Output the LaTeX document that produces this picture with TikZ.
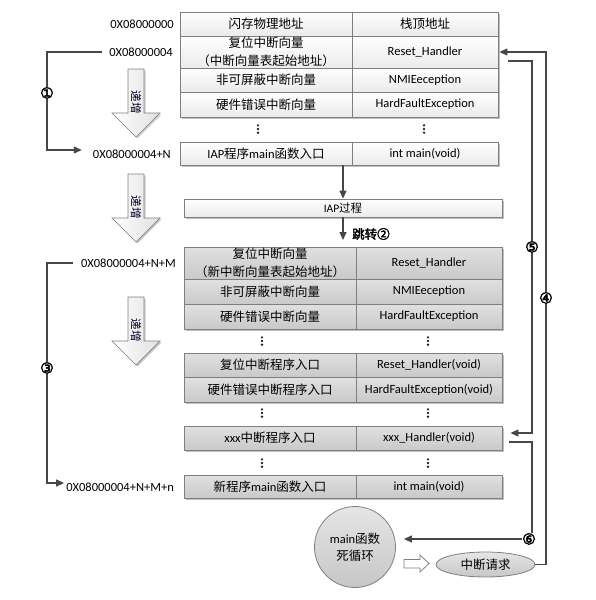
\documentclass[tikz,border=0pt]{standalone}
\usepackage{fontspec}
\setmainfont{Carlito}
\newfontfamily\cjk[AutoFakeBold=2.5]{Noto Sans CJK SC}
\newfontfamily\numfont[FakeBold=3.5]{DejaVu Sans}
\usetikzlibrary{arrows.meta,shapes.geometric,shadows,calc}
\newcommand\zh[1]{{\cjk #1}}
\definecolor{edge}{HTML}{7F7F7F}
\definecolor{ln}{HTML}{474747}
\tikzset{
  cellbase/.style={draw=edge, line width=0.8pt, inner sep=0pt, align=center,
    font=\fontsize{12.5}{18}\selectfont,
    drop shadow={shadow xshift=1.6pt, shadow yshift=-1.6pt, opacity=0.25, fill=black}},
  topcell/.style={cellbase, top color=white, bottom color=black!8},
  botcell/.style={cellbase, top color=black!12, bottom color=black!21},
  tl/.style={minimum width=172pt}, tr/.style={minimum width=146pt},
  addr/.style={anchor=east, inner sep=0pt, font=\fontsize{12.5}{15}\selectfont},
  arr/.style={draw=ln, line width=1.2pt, -{Triangle[length=8pt,width=7pt]}},
  num/.style={fill=white, inner sep=0.3pt, font=\numfont\fontsize{15}{15}\selectfont},
  bigarr/.style={draw=edge, line width=0.7pt, left color=white, right color=black!12,
    drop shadow={shadow xshift=1.6pt, shadow yshift=-1.6pt, opacity=0.2, fill=black}},
  arrtxt/.style={rotate=-90, inner sep=0pt, text=black!85!blue, font=\cjk\fontsize{11.5}{11.5}\selectfont},
  grayshape/.style={draw=edge, line width=0.8pt, top color=black!10, bottom color=black!22,
    align=center, inner sep=0pt, font=\fontsize{12.5}{17}\selectfont}
}
\newcommand\bigarrow[2]{%
  \begin{scope}[shift={(0,#1)}]
    \path[bigarr] (128,0) -- (144,0) -- (144,44) -- (160,44) -- (136,68) -- (112,44) -- (128,44) -- cycle;
    \node[arrtxt] (#2) at (136,33) {递增};
  \end{scope}}
\newcommand\vdts[2]{\fill[black!85] (#1,#2) ++(0,-3.7) circle (1.3) ++(0,3.7) circle (1.3) ++(0,3.7) circle (1.3);}
\begin{document}
\begin{tikzpicture}[x=1pt,y=-1pt]
\useasboundingbox (0,0) rectangle (596,600);

% address labels
\node[addr] (l1) at (174,24) {0X08000000};
\node[addr] (l2) at (173,52) {0X08000004};
\node[addr] (l3) at (171,154) {0X08000004+N};
\node[addr] (l4) at (176,263) {0X08000004+N+M};
\node[addr] (l5) at (174,487) {0X08000004+N+M+n};

% big increasing arrows
\bigarrow{69}{inc1}
\bigarrow{174}{inc2}
\bigarrow{297}{inc3}

% top table
\node[topcell,tl,minimum height=24pt] (t1a) at (266,24) {\zh{闪存物理地址}};
\node[topcell,tr,minimum height=24pt] (t1b) at (425,24) {\zh{栈顶地址}};
\node[topcell,tl,minimum height=32pt] (t2a) at (266,52) {\zh{复位中断向量}\\\zh{（中断向量表起始地址）}};
\node[topcell,tr,minimum height=32pt] (t2b) at (425,52) {Reset\_Handler};
\node[topcell,tl,minimum height=24pt] (t3a) at (266,80) {\zh{非可屏蔽中断向量}};
\node[topcell,tr,minimum height=24pt] (t3b) at (425,80) {NMIEeception};
\node[topcell,tl,minimum height=25pt] (t4a) at (266,104.5) {\zh{硬件错误中断向量}};
\node[topcell,tr,minimum height=25pt] (t4b) at (425,104.5) {HardFaultException};
\vdts{258}{129}
\vdts{424}{129}
\node[topcell,tl,minimum height=23pt] (t5a) at (266,153.5) {IAP\zh{程序}main\zh{函数入口}};
\node[topcell,tr,minimum height=23pt] (t5b) at (425,153.5) {int main(void)};

% IAP process
\node[topcell,minimum width=318pt,minimum height=18pt,font=\fontsize{11.5}{14}\selectfont] (iap) at (343,208) {IAP\zh{过程}};
\draw[arr] (iap.north |- t5a.south) -- (iap.north);
\draw[arr,shorten >=7pt] (iap.south) -- (iap.south |- 0,247);
\node[anchor=west,inner sep=0pt,font=\cjk\bfseries\fontsize{12.5}{14}\selectfont] (jump) at (352,234) {跳转②};

% lower table
\node[botcell,tl,minimum height=32pt] (b1a) at (270,263) {\zh{复位中断向量}\\\zh{（新中断向量表起始地址）}};
\node[botcell,tr,minimum height=32pt] (b1b) at (429,263) {Reset\_Handler};
\node[botcell,tl,minimum height=25pt] (b2a) at (270,291.5) {\zh{非可屏蔽中断向量}};
\node[botcell,tr,minimum height=25pt] (b2b) at (429,291.5) {NMIEeception};
\node[botcell,tl,minimum height=25pt] (b3a) at (270,316.5) {\zh{硬件错误中断向量}};
\node[botcell,tr,minimum height=25pt] (b3b) at (429,316.5) {HardFaultException};
\vdts{262}{341}
\vdts{428}{341}
\node[botcell,tl,minimum height=24pt] (b4a) at (270,365) {\zh{复位中断程序入口}};
\node[botcell,tr,minimum height=24pt] (b4b) at (429,365) {Reset\_Handler(void)};
\node[botcell,tl,minimum height=25pt] (b5a) at (270,389.5) {\zh{硬件错误中断程序入口}};
\node[botcell,tr,minimum height=25pt] (b5b) at (429,389.5) {HardFaultException(void)};
\vdts{262}{413}
\vdts{428}{413}
\node[botcell,tl,minimum height=24pt] (b6a) at (270,438) {xxx\zh{中断程序入口}};
\node[botcell,tr,minimum height=24pt] (b6b) at (429,438) {xxx\_Handler(void)};
\vdts{262}{463}
\vdts{428}{463}
\node[botcell,tl,minimum height=23pt] (b7a) at (270,486.5) {\zh{新程序}main\zh{函数入口}};
\node[botcell,tr,minimum height=23pt] (b7b) at (429,486.5) {int main(void)};

% main loop circle and interrupt request
\node[grayshape,circle,minimum size=81pt] (mc) at (355,547) {main\zh{函数}\\\zh{死循环}};
\node[grayshape,ellipse,minimum width=99pt,minimum height=25pt] (irq) at (485.5,564.5) {\zh{中断请求}};
\draw[draw=edge,line width=0.8pt,fill=white] (404,559.5) -- (420,559.5) -- (420,555) -- (429,563.5) -- (420,572) -- (420,568) -- (404,568) -- cycle;

% left brackets
\coordinate (lx) at (47,0);
\coordinate (s1) at ($(l2.west)+(-7,0)$);
\coordinate (e1) at ($(l3.west)+(-11,-4)$);
\draw[arr] (s1) -- (s1 -| lx) -- (e1 -| lx) -- (e1);
\node[num] (n1) at (47,93) {①};
\coordinate (s3) at ($(l4.west)+(-8,0)$);
\coordinate (e3) at ($(l5.west)+(-2,-4)$);
\draw[arr] (s3) -- (s3 -| lx) -- (e3 -| lx) -- (e3);
\node[num] (n3) at (47,368) {③};

% right connectors
\coordinate (rx5) at (532,0);
\coordinate (rx4) at (546,0);
\coordinate (s5) at ($(t2b.east)+(10,9)$);
\coordinate (e5) at ($(b6b.east)+(8,-5)$);
\draw[arr] (s5) -- (s5 -| rx5) -- (e5 -| rx5) -- (e5);
\node[num] (n5) at (532,247) {⑤};
\draw[arr] (irq.east) -- (irq.east -| rx4) -- (t2b.east -| rx4) -- ([xshift=1pt]t2b.east);
\node[num] (n4) at (546,298) {④};
\coordinate (s6) at ($(b6b.east)+(7,4)$);
\coordinate (e6) at ($(mc.east)+(8,-8)$);
\draw[arr] (s6) -- (s6 -| rx5) -- (e6 -| rx5) -- (e6);
\node[num] (n6) at (529,539) {⑥};
\end{tikzpicture}
\end{document}
